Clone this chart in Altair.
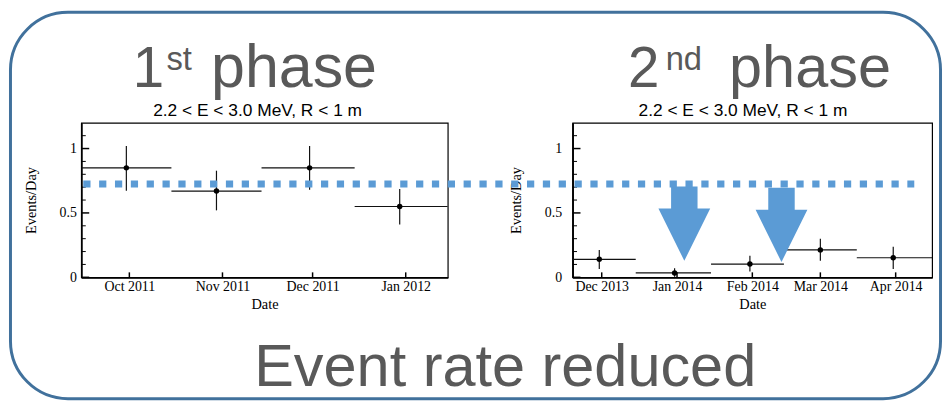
import altair as alt
import pandas as pd

# ---------------- data ----------------
# 1st phase (monthly bins)
p1_center = ["2011-09-30", "2011-10-30", "2011-11-30", "2011-12-30"]
p1_start = ["2011-09-15", "2011-10-15", "2011-11-14", "2011-12-15"]
p1_end = ["2011-10-15", "2011-11-14", "2011-12-15", "2012-01-15"]
p1_rate = [0.85, 0.67, 0.85, 0.55]
p1_lo = [0.672, 0.52, 0.68, 0.41]
p1_hi = [1.02, 0.828, 1.02, 0.685]
p1_domain = ["2011-09-15", "2012-01-15"]
p1_ticks = ["2011-10-01", "2011-11-01", "2011-12-01", "2012-01-01"]

# 2nd phase
p2_center = ["2013-11-30", "2013-12-31", "2014-01-31", "2014-03-01", "2014-03-31"]
p2_start = ["2013-11-15", "2013-12-15", "2014-01-15", "2014-02-14", "2014-03-16"]
p2_end = ["2013-12-15", "2014-01-15", "2014-02-14", "2014-03-16", "2014-04-16"]
p2_rate = [0.14, 0.034, 0.103, 0.213, 0.152]
p2_lo = [0.065, 0.005, 0.046, 0.128, 0.065]
p2_hi = [0.213, 0.07, 0.167, 0.30, 0.238]
p2_domain = ["2013-11-19", "2014-04-16"]
p2_ticks = ["2013-12-01", "2014-01-01", "2014-02-01", "2014-03-01", "2014-04-01"]

y_domain = [0, 1.2]
y_major = [0, 0.5, 1.0]
y_minor = [0.1, 0.2, 0.3, 0.4, 0.6, 0.7, 0.8, 0.9, 1.1]
phase1_level = 0.725

arrow_dates = ["2014-01-04", "2014-02-13"]
arrow_levels = [0.417, 0.407]

# texts
sub_title = "2.2 < E < 3.0 MeV, R < 1 m"
phase1_num, phase1_sup = "1", "st"
phase2_num, phase2_sup = "2", "nd"
phase_word = "phase"
bottom_text = "Event rate reduced"
x_title = "Date"
y_title = "Events/Day"
tick_format = "%b %Y"

# ---------------- styling ----------------
SERIF = "Liberation Serif"
SANS = "Liberation Sans"
GREY = "#595959"
BLUE = "#5B9BD5"
FRAME = "#41719C"
W1, W2, H = 370, 363, 156

ARROW = ("M-0.356,-1L0.356,-1L0.356,-0.405L0.697,-0.405L0,1"
         "L-0.697,-0.405L-0.356,-0.405Z")


def dt(s):
    y, m, d = map(int, s.split("-"))
    return alt.DateTime(year=y, month=m, date=d, utc=True)


one = pd.DataFrame({"k": [0]})


def text(t, x, y, size, color=GREY, font=SANS, align="left"):
    return alt.Chart(one).mark_text(
        text=t, font=font, fontSize=size, color=color, align=align,
        baseline="alphabetic"
    ).encode(x=alt.value(x), y=alt.value(y))


def panel(center, start, end, rate, lo, hi, domain, ticks, width, lpad, tpad):
    df = pd.DataFrame({"center": center, "start": start, "end": end,
                       "rate": rate, "lo": lo, "hi": hi})
    xs = alt.Scale(type="utc", domain=[dt(d) for d in domain], nice=False)
    ys = alt.Scale(domain=y_domain, nice=False, zero=False)
    xaxis = alt.Axis(title=x_title, values=[dt(t) for t in ticks],
                     format=tick_format, labelPadding=2, titlePadding=4)
    yaxis = alt.Axis(title=y_title, values=y_major, format="~g",
                     labelPadding=lpad, titlePadding=tpad)
    base = alt.Chart(df)
    hbar = base.mark_rule(color="#111", strokeWidth=1.2, clip=True).encode(
        x=alt.X("start:T", scale=xs, axis=xaxis), x2="end:T",
        y=alt.Y("rate:Q", scale=ys, axis=yaxis))
    vbar = base.mark_rule(color="#111", strokeWidth=1.2).encode(
        x=alt.X("center:T", scale=xs, axis=xaxis),
        y=alt.Y("lo:Q", scale=ys, axis=yaxis), y2="hi:Q")
    pts = base.mark_circle(size=30, color="black", opacity=1).encode(
        x=alt.X("center:T", scale=xs, axis=xaxis),
        y=alt.Y("rate:Q", scale=ys, axis=yaxis))
    ymaj = alt.Chart(pd.DataFrame({"v": y_major})).mark_rule(
        color="black", strokeWidth=1.5).encode(
        y=alt.Y("v:Q", scale=ys, axis=yaxis), x=alt.value(0), x2=alt.value(8))
    ymin = alt.Chart(pd.DataFrame({"v": y_minor})).mark_rule(
        color="black", strokeWidth=1).encode(
        y=alt.Y("v:Q", scale=ys, axis=yaxis), x=alt.value(0), x2=alt.value(4.5))
    xt = alt.Chart(pd.DataFrame({"t": ticks})).mark_rule(
        color="black", strokeWidth=1.5).encode(
        x=alt.X("t:T", scale=xs, axis=xaxis), y=alt.value(H), y2=alt.value(H - 5))
    return [ymaj, ymin, xt, hbar, vbar, pts]


# ---------------- panel 1 (also carries frame and big texts) ----------------
frame = alt.Chart(one).mark_rect(
    fillOpacity=0, stroke=FRAME, strokeWidth=3, cornerRadius=58
).encode(x=alt.value(-71.5), x2=alt.value(867.5),
         y=alt.value(-111.5), y2=alt.value(278.5))

p1_layers = panel(p1_center, p1_start, p1_end, p1_rate, p1_lo, p1_hi,
                  p1_domain, p1_ticks, W1, 5, 21)
p1 = alt.layer(
    frame,
    text(phase1_num, 52, -36, 57),
    text(phase1_sup, 86, -53, 33),
    text(phase_word, 131, -36, 61.5),
    text(phase2_num, 552, -36, 57),
    text(phase2_sup, 590, -53, 33),
    text(phase_word, 654, -36, 60),
    text(sub_title, 178, -7, 17.5, color="black", align="center"),
    text(sub_title, 668, -7, 17.5, color="black", align="center"),
    text(bottom_text, 428, 266, 60, align="center"),
    *p1_layers,
).properties(width=W1, height=H)

# ---------------- panel 2 ----------------
p2_layers = panel(p2_center, p2_start, p2_end, p2_rate, p2_lo, p2_hi,
                  p2_domain, p2_ticks, W2, 11, 21)
xs2 = alt.Scale(type="utc", domain=[dt(d) for d in p2_domain], nice=False)
ys2 = alt.Scale(domain=y_domain, nice=False, zero=False)

dash = alt.Chart(one).mark_rule(
    color=BLUE, strokeWidth=7, strokeDash=[7.3, 8.7], strokeCap="butt"
).encode(y=alt.datum(phase1_level), x=alt.value(-494), x2=alt.value(345))

arrows = alt.Chart(pd.DataFrame({"d": arrow_dates, "v": arrow_levels})).mark_point(
    shape=ARROW, size=75 * 75, filled=True, color=BLUE, opacity=1, strokeWidth=0
).encode(x=alt.X("d:T", scale=xs2), y=alt.Y("v:Q", scale=ys2))

p2 = alt.layer(*p2_layers, arrows, dash).properties(width=W2, height=H)

chart = alt.hconcat(p1, p2, spacing=126, bounds="flush").properties(
    padding=0
).configure_view(
    stroke="black", strokeWidth=1.2
).configure_axis(
    domainColor="black", domainWidth=1.8, labelColor="black", titleColor="black",
    labelFont=SERIF, titleFont=SERIF, labelFontSize=14, titleFontSize=14.5,
    titleFontWeight="normal", grid=False, ticks=False
)

chart.save("out.html", embed_options={"renderer": "svg", "actions": False})
